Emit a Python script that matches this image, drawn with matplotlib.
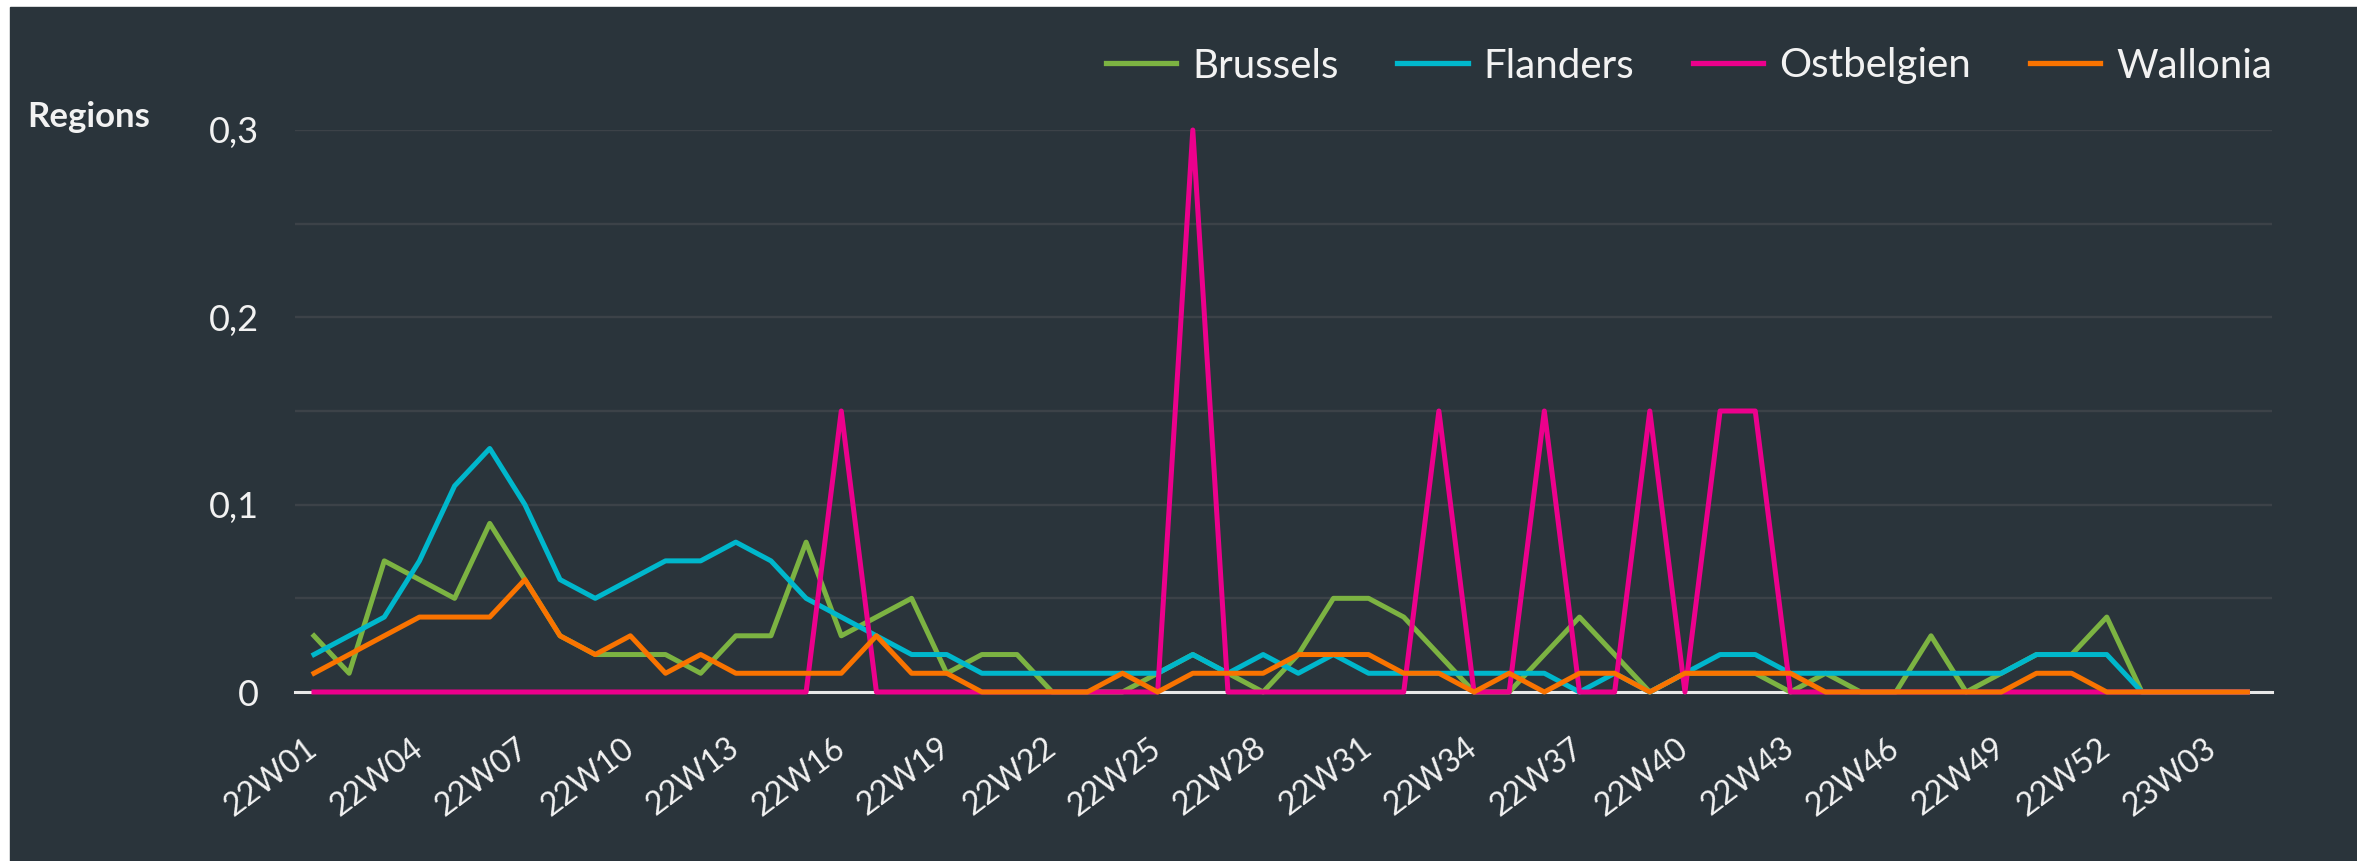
import matplotlib
matplotlib.use("Agg")
import matplotlib.pyplot as plt
from matplotlib.patches import Rectangle
from matplotlib.lines import Line2D

plt.rcParams['font.family'] = ['Lato', 'DejaVu Sans']

# ---- data ----
weeks = [f"22W{i:02d}" for i in range(1, 53)] + [f"23W{i:02d}" for i in range(1, 5)]
tick_every = 3

brussels = [0.03, 0.01, 0.07, 0.06, 0.05, 0.09, 0.06, 0.03, 0.02, 0.02,
            0.02, 0.01, 0.03, 0.03, 0.08, 0.03, 0.04, 0.05, 0.01, 0.02,
            0.02, 0.00, 0.00, 0.00, 0.01, 0.02, 0.01, 0.00, 0.02, 0.05,
            0.05, 0.04, 0.02, 0.00, 0.00, 0.02, 0.04, 0.02, 0.00, 0.01,
            0.01, 0.01, 0.00, 0.01, 0.00, 0.00, 0.03, 0.00, 0.01, 0.02,
            0.02, 0.04, 0.00, 0.00, 0.00, 0.00]
flanders = [0.02, 0.03, 0.04, 0.07, 0.11, 0.13, 0.10, 0.06, 0.05, 0.06,
            0.07, 0.07, 0.08, 0.07, 0.05, 0.04, 0.03, 0.02, 0.02, 0.01,
            0.01, 0.01, 0.01, 0.01, 0.01, 0.02, 0.01, 0.02, 0.01, 0.02,
            0.01, 0.01, 0.01, 0.01, 0.01, 0.01, 0.00, 0.01, 0.00, 0.01,
            0.02, 0.02, 0.01, 0.01, 0.01, 0.01, 0.01, 0.01, 0.01, 0.02,
            0.02, 0.02, 0.00, 0.00, 0.00, 0.00]
ostbelgien = [0.00, 0.00, 0.00, 0.00, 0.00, 0.00, 0.00, 0.00, 0.00, 0.00,
              0.00, 0.00, 0.00, 0.00, 0.00, 0.15, 0.00, 0.00, 0.00, 0.00,
              0.00, 0.00, 0.00, 0.00, 0.00, 0.30, 0.00, 0.00, 0.00, 0.00,
              0.00, 0.00, 0.15, 0.00, 0.00, 0.15, 0.00, 0.00, 0.15, 0.00,
              0.15, 0.15, 0.00, 0.00, 0.00, 0.00, 0.00, 0.00, 0.00, 0.00,
              0.00, 0.00, 0.00, 0.00, 0.00, 0.00]
wallonia = [0.01, 0.02, 0.03, 0.04, 0.04, 0.04, 0.06, 0.03, 0.02, 0.03,
            0.01, 0.02, 0.01, 0.01, 0.01, 0.01, 0.03, 0.01, 0.01, 0.00,
            0.00, 0.00, 0.00, 0.01, 0.00, 0.01, 0.01, 0.01, 0.02, 0.02,
            0.02, 0.01, 0.01, 0.00, 0.01, 0.00, 0.01, 0.01, 0.00, 0.01,
            0.01, 0.01, 0.01, 0.00, 0.00, 0.00, 0.00, 0.00, 0.00, 0.01,
            0.01, 0.00, 0.00, 0.00, 0.00, 0.00]

series_names = ["Brussels", "Flanders", "Ostbelgien", "Wallonia"]
series_values = [brussels, flanders, ostbelgien, wallonia]
series_colors = ["#7cb342", "#00b7cc", "#ec008c", "#f97300"]

y_ticks = [0, 0.05, 0.1, 0.15, 0.2, 0.25, 0.3]
y_tick_labels = ["0", "", "0,1", "", "0,2", "", "0,3"]
y_title = "Regions"

# ---- figure ----
W, H = 2357, 861
BG = "#2a343b"
TXT = "#f2f2f2"
fig = plt.figure(figsize=(W / 100, H / 100), dpi=100)
fig.patch.set_facecolor("white")
fig.add_artist(Rectangle((10 / W, 0), 1 - 10 / W, 1 - 7 / H,
                         transform=fig.transFigure, color=BG, zorder=0))

ax_l, ax_r = 295 / W, 2272 / W
ax_b, ax_t = 1 - 692 / H, 1 - 130 / H
ax = fig.add_axes([ax_l, ax_b, ax_r - ax_l, ax_t - ax_b])
ax.set_facecolor(BG)
ax.patch.set_alpha(0)
for s in ax.spines.values():
    s.set_visible(False)

x = list(range(len(weeks)))
for i, (name, vals, col) in enumerate(zip(series_names, series_values, series_colors)):
    ax.plot(x, vals, color=col, lw=3.6, label=name, zorder=3 + i,
            clip_on=False, solid_joinstyle="round")

ax.axhline(0, color="#e8e8e8", lw=2.2, zorder=2, clip_on=False)

ax.set_xlim(-0.54, 55.7)
ax.set_ylim(0, 0.3)
ax.set_yticks(y_ticks)
ax.set_yticklabels(y_tick_labels)
ax.grid(axis="y", color="#3c4248", lw=1.7, zorder=1)
ax.set_axisbelow(True)
ax.tick_params(axis="y", length=0, pad=26, labelsize=26, labelcolor=TXT)

ticks = x[::tick_every]
ax.set_xticks(ticks)
ax.set_xticklabels([weeks[t] for t in ticks], rotation=37, ha="right",
                   va="center", rotation_mode="anchor")
ax.tick_params(axis="x", length=0, pad=38, labelsize=23, labelcolor=TXT)

fig.text(27 / W, 1 - 117 / H, y_title, color=TXT, fontsize=25,
         fontweight="bold", ha="left", va="center")

handles = [Line2D([], [], color=c, lw=3.8) for c in series_colors]
fig.legend(handles, series_names, loc="center right",
           bbox_to_anchor=(2272 / W, 1 - 66 / H), ncol=4, frameon=False,
           fontsize=29, labelcolor=TXT, handlelength=1.75, handletextpad=0.4,
           columnspacing=1.45, borderaxespad=0, borderpad=0)

fig.savefig("out.png", dpi=100, facecolor=fig.get_facecolor())
